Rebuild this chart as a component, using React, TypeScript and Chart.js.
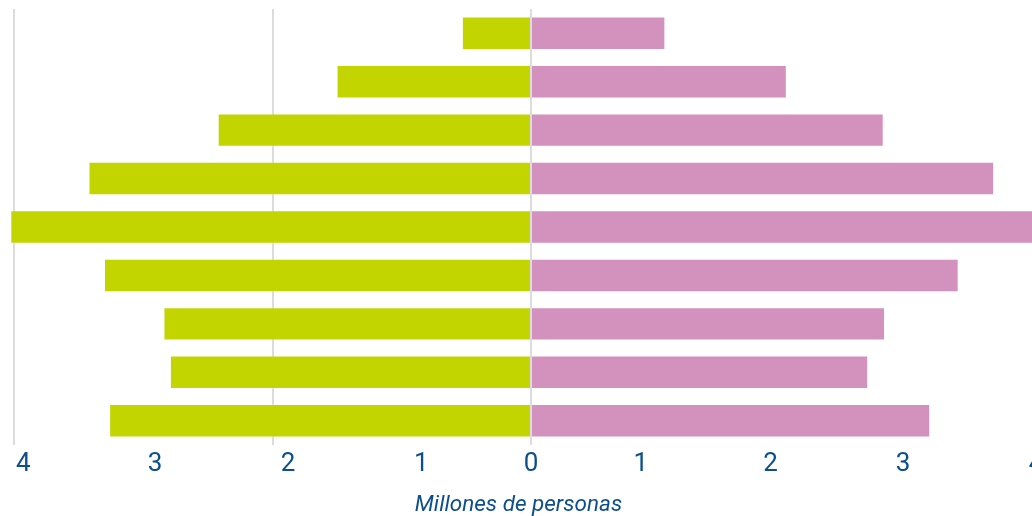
import React, { useEffect, useRef } from "react";
import { Chart, registerables } from "chart.js";

Chart.register(...registerables);

const AGE_GROUPS = ["80+", "70-79", "60-69", "50-59", "40-49", "30-39", "20-29", "10-19", "0-9"];
const MEN = [0.535, 1.505, 2.425, 3.425, 4.03, 3.305, 2.845, 2.795, 3.265];
const WOMEN = [1.04, 1.98, 2.73, 3.585, 3.95, 3.31, 2.74, 2.61, 3.09];
const TICK_LABELS = ["4", "3", "2", "1", "0", "1", "2", "3", "4"];
const TICK_POSITIONS = [-3.93, -2.91, -1.88, -0.85, 0.0, 0.85, 1.855, 2.88, 3.91];
const GRID_VALUES = [-4, -2, 0];
const AXIS_TITLE = "Millones de personas";

const GREEN = "#c2d500";
const PINK = "#d391be";
const BLUE = "#0d4f8b";

export default function App() {
  const ref = useRef<HTMLCanvasElement | null>(null);

  useEffect(() => {
    if (!ref.current) return;
    const chart = new Chart(ref.current, {
      type: "bar",
      data: {
        labels: AGE_GROUPS,
        datasets: [
          {
            label: "Hombres",
            data: MEN.map((v) => -v),
            backgroundColor: GREEN,
            borderColor: "rgba(255,255,255,0.3)",
            borderWidth: 1,
            barPercentage: 0.69,
            categoryPercentage: 1,
          },
          {
            label: "Mujeres",
            data: WOMEN,
            backgroundColor: PINK,
            borderColor: "rgba(255,255,255,0.3)",
            borderWidth: 1,
            barPercentage: 0.69,
            categoryPercentage: 1,
          },
        ],
      },
      options: {
        indexAxis: "y",
        animation: false,
        responsive: false,
        maintainAspectRatio: false,
        layout: { padding: { top: 9, left: 0, right: 0, bottom: 0 } },
        plugins: { legend: { display: false }, tooltip: { enabled: false } },
        scales: {
          y: { stacked: true, display: false },
          x: {
            stacked: true,
            min: -4.11,
            max: 4.11,
            position: "bottom",
            ticks: { display: false },
            afterBuildTicks: (s: any) => {
              s.ticks = GRID_VALUES.map((v) => ({ value: v }));
            },
            grid: { color: "#dcdcdc", lineWidth: 2, drawTicks: false },
            border: { display: false },
            afterFit: (s: any) => {
              s.height = 0;
            },
          },
          x2: {
            type: "linear",
            axis: "x",
            position: "bottom",
            min: -4.11,
            max: 4.11,
            afterBuildTicks: (s: any) => {
              s.ticks = TICK_POSITIONS.map((v) => ({ value: v }));
            },
            ticks: {
              autoSkip: false,
              maxRotation: 0,
              padding: 4,
              color: BLUE,
              font: { family: "Roboto", size: 26 },
              callback: (_v: any, i: number) => TICK_LABELS[i],
            },
            grid: { display: false, drawTicks: false },
            border: { display: false },
            afterFit: (s: any) => {
              s.height = 71;
            },
          },
        },
      },
    } as any);
    return () => chart.destroy();
  }, []);

  return (
    <div
      style={{
        position: "fixed",
        left: 0,
        top: 0,
        width: 1032,
        height: 516,
        overflow: "hidden",
        background: "#fff",
      }}
    >
      <canvas ref={ref} width={1062} height={516} style={{ width: 1062, height: 516, display: "block" }} />
      <div
        style={{
          position: "absolute",
          left: 0,
          top: 490,
          width: 1037,
          textAlign: "center",
          fontFamily: "Roboto",
          fontStyle: "italic",
          fontSize: 22.5,
          lineHeight: "26px",
          color: BLUE,
        }}
      >
        {AXIS_TITLE}
      </div>
    </div>
  );
}
